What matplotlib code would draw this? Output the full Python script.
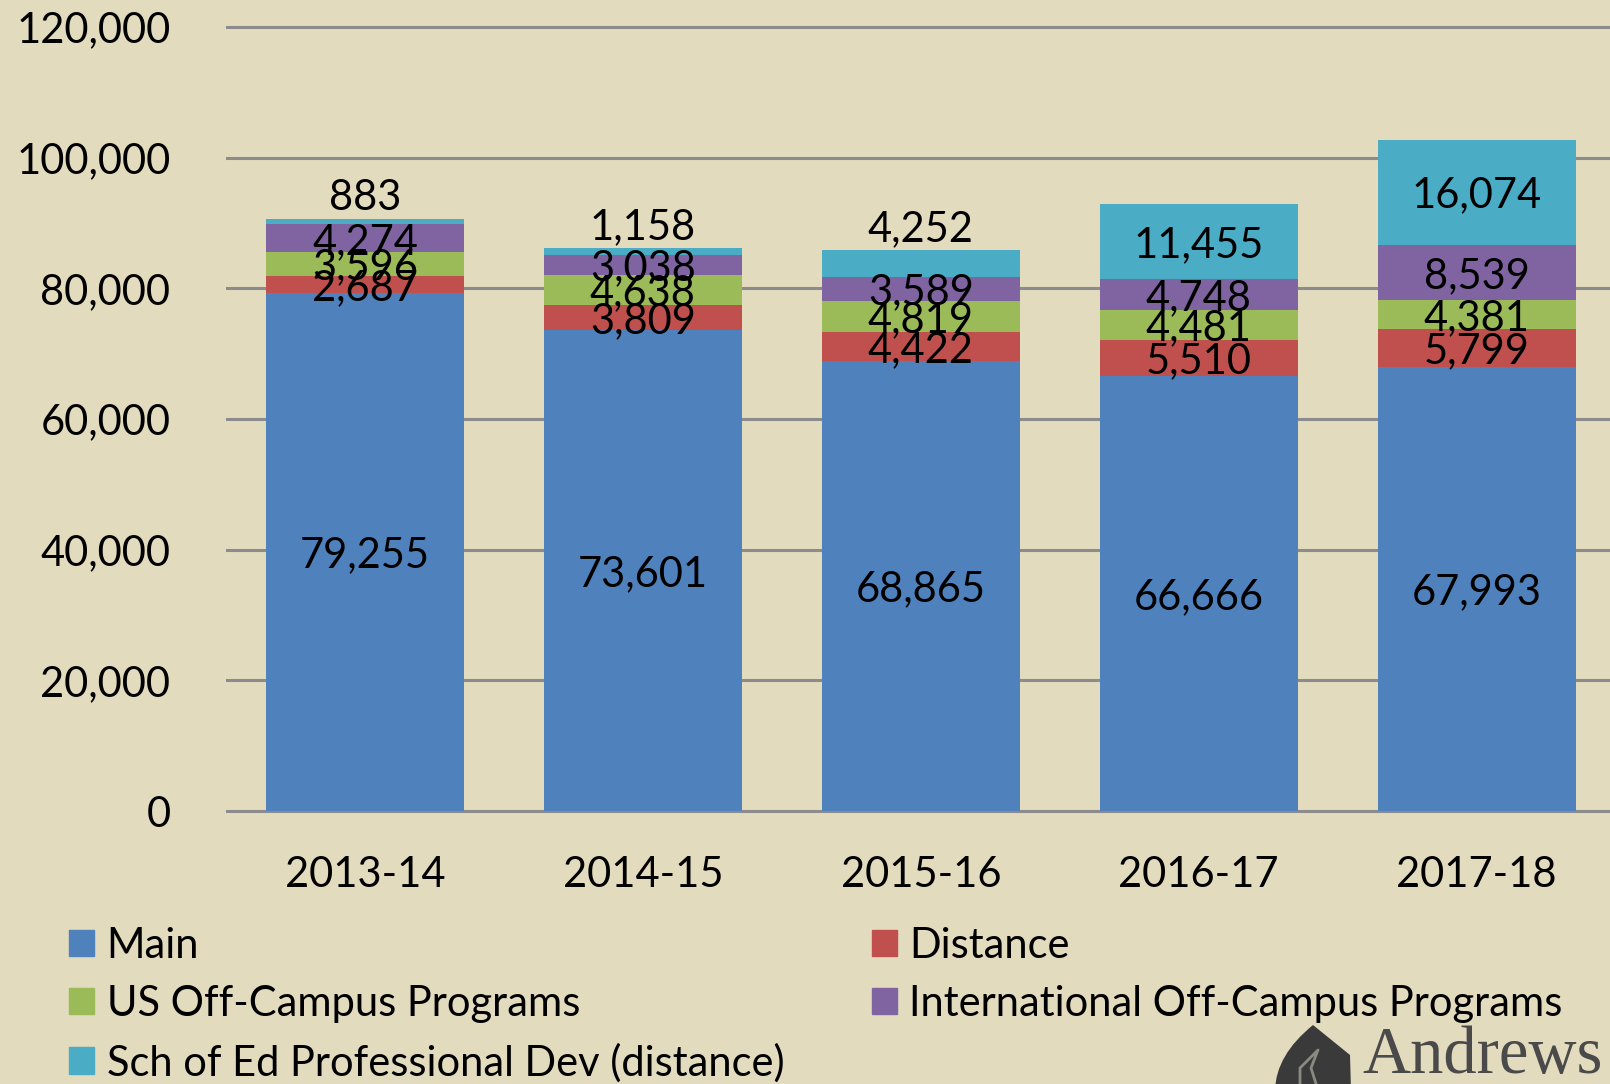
import numpy as np
import matplotlib.pyplot as plt
from matplotlib.patches import PathPatch, Patch
from matplotlib.path import Path
from matplotlib.ticker import FuncFormatter

plt.rcParams['font.family'] = ['Lato', 'DejaVu Sans']

years = ['2013-14', '2014-15', '2015-16', '2016-17', '2017-18']
main = [79255, 73601, 68865, 66666, 67993]
distance = [2687, 3809, 4422, 5510, 5799]
us_off = [3596, 4638, 4819, 4481, 4381]
intl_off = [4274, 3038, 3589, 4748, 8539]
sch_ed = [883, 1158, 4252, 11455, 16074]

series = [
    ('Main', main, '#4F81BD'),
    ('Distance', distance, '#C0504D'),
    ('US Off-Campus Programs', us_off, '#9BBB59'),
    ('International Off-Campus Programs', intl_off, '#8064A2'),
    ('Sch of Ed Professional Dev (distance)', sch_ed, '#4BACC6'),
]

bg = '#E2DBBE'
fs = 30

fig = plt.figure(figsize=(16.1, 10.84), dpi=100, facecolor=bg)
ax = fig.add_axes([0.1404, 0.2458, 0.8596, 0.7352])
ax.set_facecolor(bg)

x = np.arange(len(years))
bottom = np.zeros(len(years))
handles = {}
for name, vals, col in series:
    vals = np.array(vals, dtype=float)
    ax.bar(x, vals, 0.712, bottom=bottom, color=col, zorder=3)
    handles[name] = Patch(color=col)
    for i, v in enumerate(vals):
        if name.startswith('Sch') and v < 6000:
            # small top segments get their label above the bar
            ax.annotate(f'{int(v):,}', (x[i], bottom[i] + v), xytext=(0, 17),
                        textcoords='offset points', ha='center',
                        va='center_baseline', fontsize=fs, zorder=5)
        else:
            ax.text(x[i], bottom[i] + v / 2, f'{int(v):,}', ha='center',
                    va='center_baseline', fontsize=fs, zorder=5)
    bottom += vals

ax.set_xlim(-0.5, 4.48)
ax.set_ylim(-1000, 121000)
ax.set_yticks(np.arange(0, 120001, 20000))
ax.yaxis.set_major_formatter(FuncFormatter(lambda v, p: f'{int(v):,}'))
ax.set_xticks(x)
ax.set_xticklabels(years)
ax.tick_params(axis='both', length=0, labelsize=fs)
ax.tick_params(axis='y', pad=40)
ax.tick_params(axis='x', pad=28)
ax.grid(axis='y', color='#8C8C8C', linewidth=2.2, zorder=0)
for s in ax.spines.values():
    s.set_visible(False)

order = ['Main', 'US Off-Campus Programs', 'Sch of Ed Professional Dev (distance)',
         'Distance', 'International Off-Campus Programs']
fig.legend([handles[n] for n in order], order, ncol=2, loc='upper left',
           bbox_to_anchor=(0.043, 0.145), frameon=False, fontsize=fs,
           handlelength=0.6, handleheight=0.6, handletextpad=0.3,
           columnspacing=2.1, labelspacing=0.48, borderpad=0, borderaxespad=0)

# Andrews logo
verts = [(1275, 1090), (1276, 1055), (1313, 1025), (1313, 1025),
         (1313, 1025), (1350, 1055), (1351, 1090), (1275, 1090)]
codes = [Path.MOVETO, Path.CURVE3, Path.CURVE3, Path.LINETO,
         Path.CURVE3, Path.CURVE3, Path.LINETO, Path.CLOSEPOLY]
verts = [(vx / 1610, 1 - vy / 1084) for vx, vy in verts]
fig.patches.append(PathPatch(Path(verts, codes), transform=fig.transFigure,
                             facecolor='#3A3A3A', edgecolor='none'))
flame = [(1300, 1090), (1300, 1068), (1318, 1050), (1311, 1068), (1318, 1090)]
fx = [p[0] / 1610 for p in flame]
fy = [1 - p[1] / 1084 for p in flame]
fig.lines.append(plt.Line2D(fx, fy, transform=fig.transFigure, color='#8A8A80',
                            linewidth=2))
fig.text(1362 / 1610, 1 - 1073 / 1084, 'Andrews', family='Liberation Serif',
         fontsize=48, color='#4A4A4A', ha='left', va='baseline')

fig.savefig('out.png', dpi=100, facecolor=bg)
